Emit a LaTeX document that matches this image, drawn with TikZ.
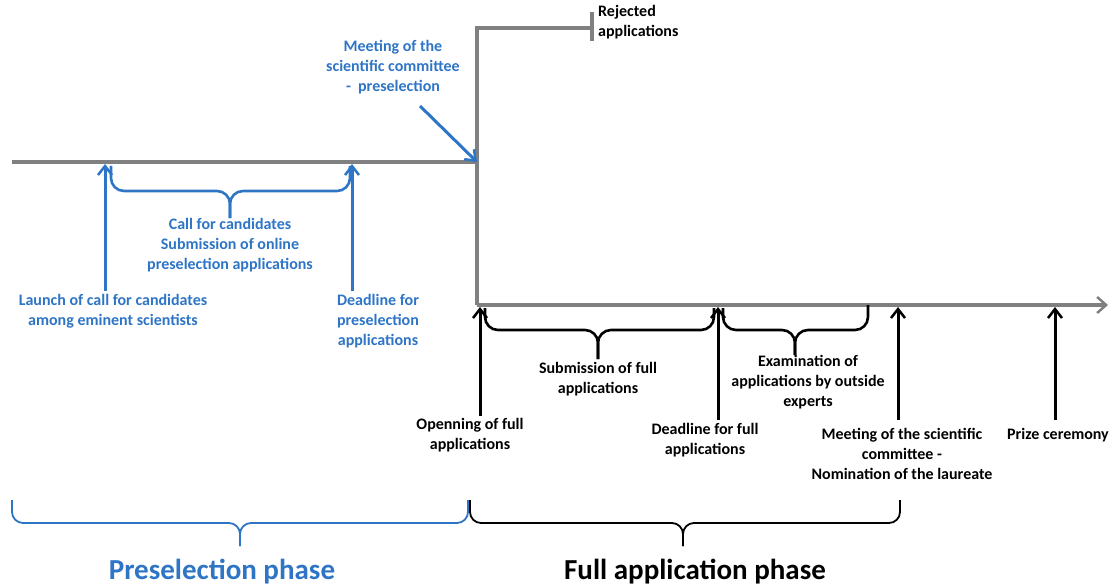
\documentclass[tikz,border=0pt]{standalone}
\usepackage{fontspec}
\setmainfont{Carlito}
\usetikzlibrary{arrows.meta}
\definecolor{pblue}{RGB}{46,117,198}
\definecolor{lgray}{RGB}{128,128,128}
\begin{document}
\begin{tikzpicture}[x=1pt,y=-1pt,
  font=\fontsize{16}{20}\selectfont\bfseries,
  gline/.style={lgray, line width=3.2pt},
  bluearrow/.style={pblue, line width=3pt, -{Straight Barb[length=9pt,width=14pt,line width=2.5pt]}},
  blackarrow/.style={black, line width=3pt, -{Straight Barb[length=9pt,width=14pt,line width=2.5pt]}},
  bluetext/.style={pblue, align=center, inner sep=0pt, anchor=north},
  blacktext/.style={black, align=center, inner sep=0pt, anchor=north},
  smallbrace/.style={line width=2.6pt, rounded corners=13pt},
  bigbrace/.style={line width=1.8pt, rounded corners=11pt},
  phase/.style={font=\fontsize{29}{33}\selectfont\bfseries, inner sep=0pt, anchor=base}]
\useasboundingbox (0,0) rectangle (1118,588);
% gray structure
\coordinate (L0) at (12,162);
\coordinate (corner) at (477,162);
\coordinate (top) at (477,28);
\coordinate (rej) at (592,28);
\coordinate (rejT) at (592,12);
\coordinate (rejB) at (592,41);
\coordinate (bot) at (477,305);
\coordinate (tend) at (1108,305);
\draw[gline] (L0) -- (corner);
\draw[gline, line join=miter] (bot) -- (top) -- (rej);
\draw[gline] (rejT) -- (rejB);
\draw[gline, -{Straight Barb[length=9pt,width=16pt,line width=2.5pt]}] (bot) -- (tend);
\node[blacktext, anchor=north west, align=left] (rejected) at (598,5) {Rejected\\applications};
% preselection phase (blue)
\node[bluetext] (meeting) at (393,40) {Meeting of the\\scientific committee\\- \ preselection};
\coordinate (mstart) at (420,106);
\draw[bluearrow] (mstart) -- (corner);
\coordinate (a1t) at (105,164);
\coordinate (a1b) at (105,291);
\coordinate (a2t) at (352,164);
\coordinate (a2b) at (352,291);
\draw[bluearrow] (a1b) -- (a1t);
\draw[bluearrow] (a2b) -- (a2t);
\coordinate (b1l) at (111,166);
\coordinate (b1r) at (350,166);
\coordinate (b1m) at (230,191);
\coordinate (b1t) at (230,218);
\draw[pblue, smallbrace] (b1l) |- (b1m) -- (b1t);
\draw[pblue, smallbrace] (b1r) |- (b1m) -- (b1t);
\node[bluetext] (call) at (230,218) {Call for candidates\\Submission of online\\preselection applications};
\node[bluetext] (launch) at (113,294) {Launch of call for candidates\\among eminent scientists};
\node[bluetext] (pdead) at (378,294) {Deadline for\\preselection\\applications};
% full application phase (black)
\coordinate (c1t) at (480,307);
\coordinate (c1b) at (480,416);
\coordinate (c2t) at (718,307);
\coordinate (c2b) at (718,420);
\coordinate (c3t) at (898,307);
\coordinate (c3b) at (898,420);
\coordinate (c4t) at (1055,307);
\coordinate (c4b) at (1055,420);
\draw[blackarrow] (c1b) -- (c1t);
\draw[blackarrow] (c2b) -- (c2t);
\draw[blackarrow] (c3b) -- (c3t);
\draw[blackarrow] (c4b) -- (c4t);
\coordinate (b2l) at (485,308);
\coordinate (b2r) at (714,308);
\coordinate (b2m) at (598,330);
\coordinate (b2t) at (598,359);
\draw[black, smallbrace] (b2l) |- (b2m) -- (b2t);
\draw[black, smallbrace] (b2r) |- (b2m) -- (b2t);
\coordinate (b3l) at (723,308);
\coordinate (b3r) at (868,305);
\coordinate (b3m) at (795,330);
\coordinate (b3t) at (795,355);
\draw[black, smallbrace] (b3l) |- (b3m) -- (b3t);
\draw[black, smallbrace] (b3r) |- (b3m) -- (b3t);
\node[blacktext] (subfull) at (598,362) {Submission of full\\applications};
\node[blacktext] (exam) at (808,355) {Examination of\\applications by outside\\experts};
\node[blacktext] (open) at (470,418) {Openning of full\\applications};
\node[blacktext] (fdead) at (705,423) {Deadline for full\\applications};
\node[blacktext] (meet2) at (902,428) {Meeting of the scientific\\committee -\\Nomination of the laureate};
\node[blacktext] (prize) at (1058,428) {Prize ceremony};
% phases
\coordinate (p1l) at (12,500);
\coordinate (p1r) at (468,500);
\coordinate (p1m) at (240,523);
\coordinate (p1t) at (240,546);
\coordinate (p2l) at (470,500);
\coordinate (p2r) at (900,500);
\coordinate (p2m) at (683,523);
\coordinate (p2t) at (683,546);
\draw[pblue, bigbrace] (p1l) |- (p1m) -- (p1t);
\draw[pblue, bigbrace] (p1r) |- (p1m) -- (p1t);
\draw[black, bigbrace] (p2l) |- (p2m) -- (p2t);
\draw[black, bigbrace] (p2r) |- (p2m) -- (p2t);
\node[phase, pblue] (preph) at (222,579) {Preselection phase};
\node[phase, black] (fullph) at (695,579) {Full application phase};
\end{tikzpicture}
\end{document}
